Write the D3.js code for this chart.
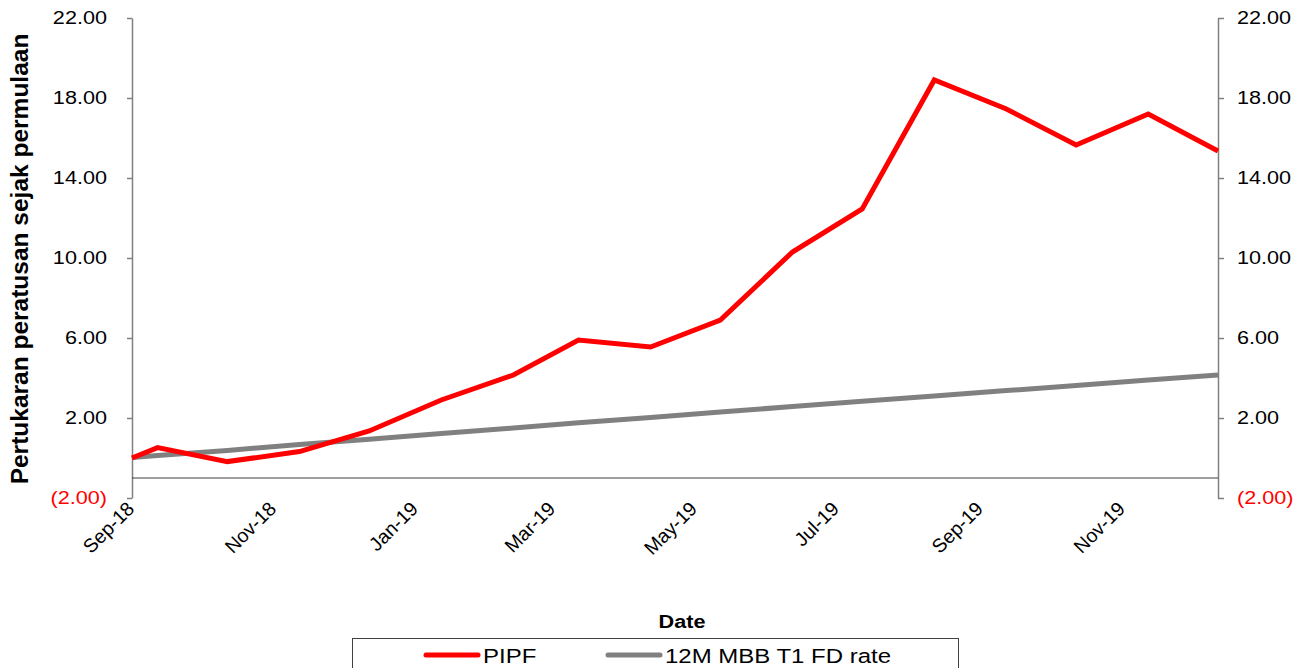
<!DOCTYPE html>
<html lang="en">
<head>
    <meta charset="UTF-8">
    <title>PIPF</title>
    <script src="https://d3js.org/d3.v7.min.js"></script>
    <style>
        body { margin: 0; background: #fff; }
        text { font-family: "Liberation Sans", Arial, sans-serif; }
    </style>
</head>
<body>
<svg id="chart"></svg>
<script>
    const width = 1298;
    const height = 668;

    // data
    const dates = ["2018-09-01", "2018-09-12", "2018-10-12", "2018-11-12", "2018-12-12",
        "2019-01-12", "2019-02-12", "2019-03-12", "2019-04-12", "2019-05-12", "2019-06-12",
        "2019-07-12", "2019-08-12", "2019-09-12", "2019-10-12", "2019-11-12", "2019-12-12"];
    const pipf = [0, 0.52, -0.18, 0.32, 1.35, 2.9, 4.15, 5.9, 5.55, 6.9, 10.3,
        12.45, 18.9, 17.45, 15.65, 17.2, 15.35];
    const fdRate = [0.02, 0.12, 0.38, 0.67, 0.94, 1.23, 1.5, 1.76, 2.03, 2.3, 2.57,
        2.84, 3.1, 3.37, 3.63, 3.9, 4.15];
    const yTicks = [-2, 2, 6, 10, 14, 18, 22];
    const xTicks = ["2018-09-01", "2018-11-01", "2019-01-01", "2019-03-01",
        "2019-05-01", "2019-07-01", "2019-09-01", "2019-11-01"];
    const seriesNames = ["PIPF", "12M MBB T1 FD rate"];
    const seriesColours = ["#ff0000", "#808080"];

    const parse = d3.timeParse("%Y-%m-%d");
    const plotLeft = 132, plotRight = 1218, plotTop = 18, plotBottom = 498;
    const stretch = 1.17; // the original text is a bit wide

    const svg = d3.select("#chart").attr("width", width).attr("height", height);

    const x = d3.scaleTime()
        .domain([parse(dates[0]), parse(dates[dates.length - 1])])
        .range([plotLeft, plotRight]);
    const y = d3.scaleLinear().domain([-2, 22]).range([plotBottom, plotTop]);

    const fmt = (v) => v < 0 ? "(" + d3.format(".2f")(-v) + ")" : d3.format(".2f")(v);

    // left axis
    const yLeft = svg.append("g")
        .attr("transform", `translate(${plotLeft},0)`)
        .call(d3.axisLeft(y).tickValues(yTicks).tickSize(5).tickSizeOuter(0).tickFormat(fmt));
    // right axis
    const yRight = svg.append("g")
        .attr("transform", `translate(${plotRight},0)`)
        .call(d3.axisRight(y).tickValues(yTicks).tickSize(6).tickSizeOuter(0).tickFormat(fmt));

    [[yLeft, -25], [yRight, 19]].forEach(([g, off]) => {
        g.select(".domain").attr("stroke", "#808080").attr("stroke-width", 1.5);
        g.selectAll(".tick line").attr("stroke", "#808080").attr("stroke-width", 1.5);
        g.selectAll(".tick text")
            .style("font-size", "18.5px")
            .attr("x", 0)
            .attr("transform", `translate(${off},0) scale(${stretch},1)`)
            .attr("fill", (d) => d < 0 ? "#ff0000" : "#000");
    });

    // horizontal axis (crosses at -1)
    svg.append("line")
        .attr("x1", plotLeft).attr("x2", plotRight)
        .attr("y1", y(-1)).attr("y2", y(-1))
        .attr("stroke", "#404040").attr("stroke-width", 1.2);

    const xAxis = svg.append("g")
        .attr("transform", `translate(0,${plotBottom})`)
        .call(d3.axisBottom(x).tickValues(xTicks.map(parse)).tickSize(0).tickFormat(d3.timeFormat("%b-%y")));
    xAxis.select(".domain").remove();
    xAxis.selectAll(".tick text")
        .style("font-size", "19.5px")
        .attr("fill", "#000")
        .attr("text-anchor", "end")
        .attr("dy", null)
        .attr("y", 0)
        .attr("transform", "translate(3,12) rotate(-45)");

    // lines
    const series = [pipf, fdRate];
    const line = d3.line()
        .x((d, i) => x(parse(dates[i])))
        .y((d) => y(d));

    // grey under red
    [1, 0].forEach((k) => {
        svg.append("path")
            .datum(series[k])
            .attr("fill", "none")
            .attr("stroke", seriesColours[k])
            .attr("stroke-width", 5)
            .attr("stroke-linejoin", "miter")
            .attr("d", line);
    });

    // y title
    svg.append("text")
        .attr("transform", `translate(28,${(33 + 485) / 2}) rotate(-90)`)
        .attr("text-anchor", "middle")
        .style("font-size", "24.5px")
        .style("font-weight", "bold")
        .text("Pertukaran peratusan sejak permulaan");

    // x title
    svg.append("text")
        .attr("transform", `translate(682,628) scale(${stretch},1)`)
        .attr("text-anchor", "middle")
        .style("font-size", "18.5px")
        .style("font-weight", "bold")
        .text("Date");

    // legend
    const legend = svg.append("g");
    legend.append("rect")
        .attr("x", 352.5).attr("y", 638.5)
        .attr("width", 606).attr("height", 40)
        .attr("fill", "#fff").attr("stroke", "#404040").attr("stroke-width", 1);
    const legendX = [426, 608];
    seriesNames.forEach((name, i) => {
        legend.append("line")
            .attr("x1", legendX[i]).attr("x2", legendX[i] + 52)
            .attr("y1", 655).attr("y2", 655)
            .attr("stroke", seriesColours[i]).attr("stroke-width", 5)
            .attr("stroke-linecap", "round");
        legend.append("text")
            .attr("transform", `translate(${legendX[i] + 57},662.5) scale(${stretch},1)`)
            .style("font-size", "20.5px")
            .text(name);
    });
</script>
</body>
</html>
